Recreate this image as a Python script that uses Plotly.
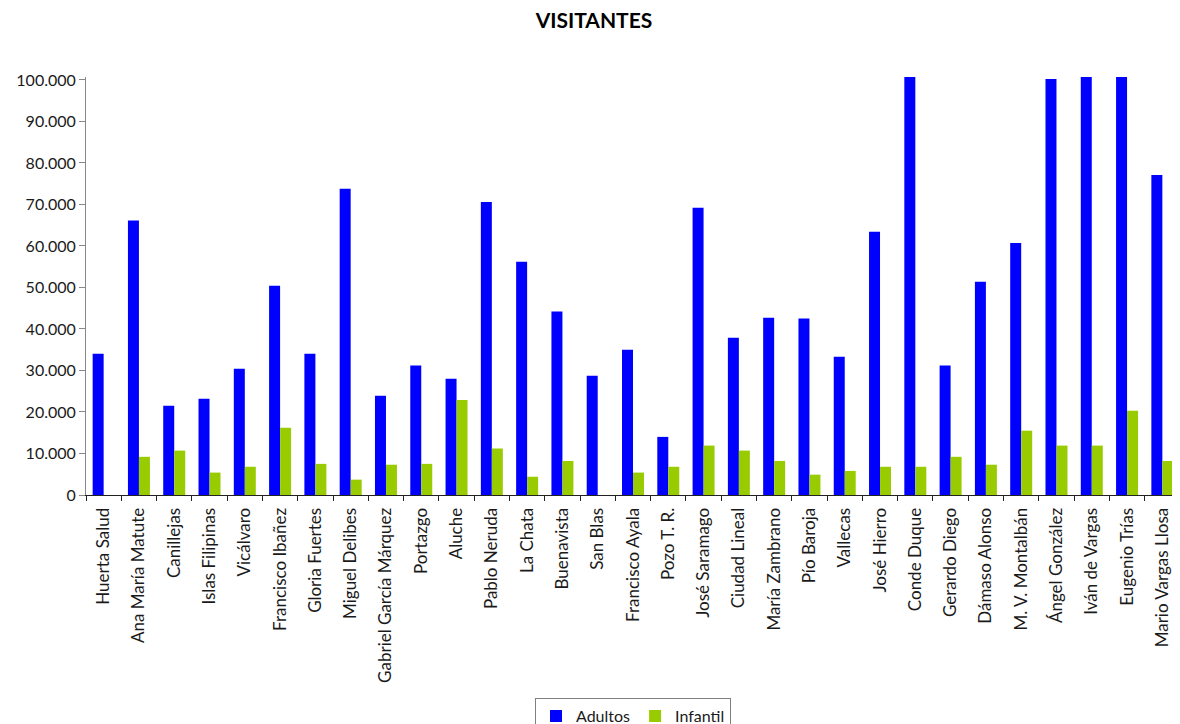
import plotly.graph_objects as go

categories = ["Huerta Salud", "Ana María Matute", "Canillejas", "Islas Filipinas", "Vicálvaro",
              "Francisco Ibañez", "Gloria Fuertes", "Miguel Delibes", "Gabriel García Márquez",
              "Portazgo", "Aluche", "Pablo Neruda", "La Chata", "Buenavista", "San Blas",
              "Francisco Ayala", "Pozo T. R.", "José Saramago", "Ciudad Lineal", "María Zambrano",
              "Pío Baroja", "Vallecas", "José Hierro", "Conde Duque", "Gerardo Diego",
              "Dámaso Alonso", "M. V. Montalbán", "Ángel González", "Iván de Vargas",
              "Eugenio Trías", "Mario Vargas Llosa"]

adultos = [34000, 66100, 21500, 23200, 30400, 50400, 34000, 73800, 23900,
           31200, 28000, 70600, 56200, 44200, 28700, 35000, 14000, 69200, 37900, 42700,
           42500, 33300, 63400, 115000, 31200, 51400, 60700, 100200, 108000, 112000, 77100]

infantil = [0, 9200, 10700, 5400, 6800, 16200, 7500, 3700, 7300,
            7500, 22900, 11200, 4400, 8200, 0, 5400, 6800, 11900, 10700, 8200,
            4900, 5800, 6800, 6800, 9200, 7300, 15500, 11900, 11900, 20300, 8200]

y_ticks = [0, 10000, 20000, 30000, 40000, 50000, 60000, 70000, 80000, 90000, 100000]

fig = go.Figure()
fig.add_trace(go.Bar(name="Adultos", x=categories, y=adultos, marker_color="#0000FF",
                     marker_line_width=0))
fig.add_trace(go.Bar(name="Infantil", x=categories, y=infantil, marker_color="#99CC00",
                     marker_line_width=0))

fig.update_layout(
    width=1172, height=716,
    separators=",.",
    paper_bgcolor="white", plot_bgcolor="white",
    font=dict(family="Lato", size=16, color="#1a1a1a"),
    title=dict(text="<b>VISITANTES</b>", x=0.5, xanchor="center", y=0.982, yanchor="middle",
               font=dict(family="Lato", size=21, color="#000000")),
    barmode="group", bargap=0.377, bargroupgap=0,
    margin=dict(l=78, r=0, t=69, b=229, autoexpand=False),
    showlegend=True,
    legend=dict(orientation="h", x=0.5, xanchor="center", y=-0.486, yanchor="top",
                bordercolor="#7f7f7f", borderwidth=1, font=dict(size=16),
                itemwidth=30, tracegroupgap=0),
)
fig.update_xaxes(type="category", tickangle=-90, showline=True, linecolor="#222222", linewidth=1,
                 ticks="outside", tickson="boundaries", ticklen=5, tickcolor="#222222",
                 ticklabelstandoff=5,
                 showgrid=False, automargin=False, tickfont=dict(size=17))
fig.update_yaxes(range=[0, 100700], tickvals=y_ticks, tickformat=",d", showline=True,
                 linecolor="#888888", linewidth=1, ticks="outside", ticklen=6,
                 tickcolor="#888888", showgrid=False, zeroline=False, automargin=False,
                 tickfont=dict(size=16))

fig.write_html("out.html")
